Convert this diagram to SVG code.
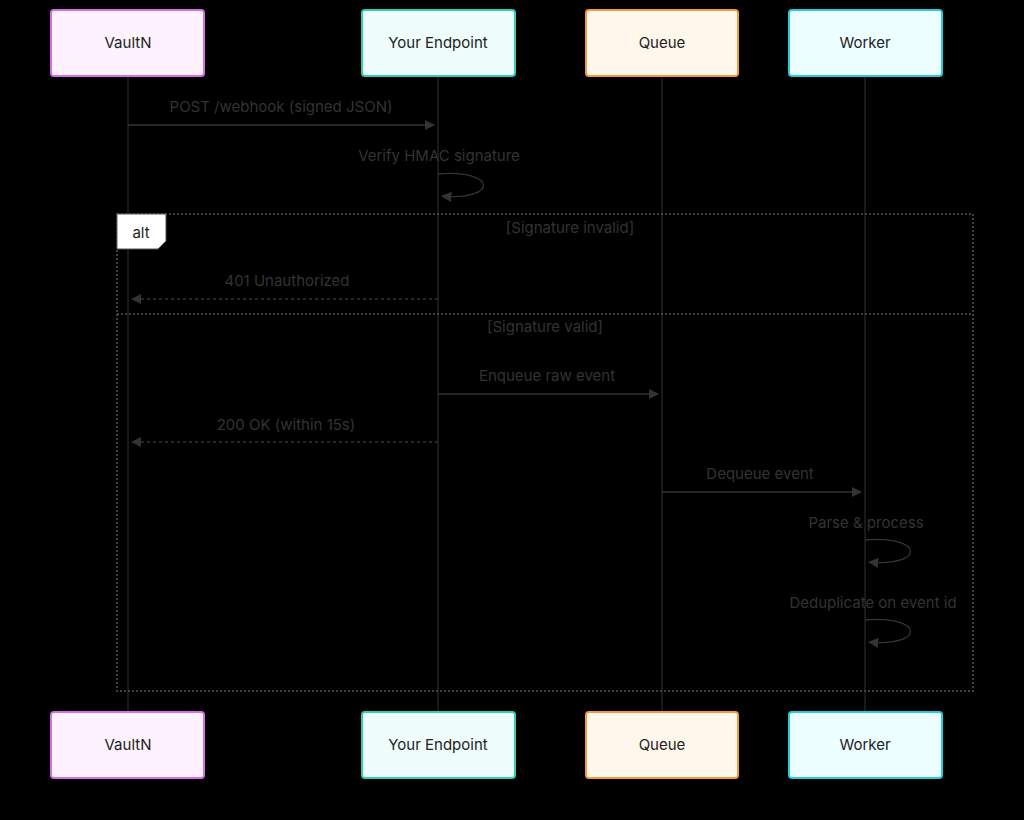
<svg xmlns="http://www.w3.org/2000/svg" width="1024" height="820" viewBox="0 0 1024 820">
<defs>
<style>
text{font-family:Inter,"Liberation Sans",sans-serif;font-size:15px;fill:#333;text-anchor:middle}
.lt{font-size:15px;fill:#222}
.life{stroke:#333;stroke-width:1}
.msg{stroke:#333;stroke-width:1.3;fill:none}
.dash{stroke-dasharray:3,3}
.frame{stroke:#555;stroke-width:1.5;fill:none;stroke-dasharray:2,2}
</style>
<marker id="ah" viewBox="0 0 10 10" refX="9" refY="5" markerWidth="8" markerHeight="8" orient="auto"><path d="M0,0L10,5L0,10z" fill="#333"/></marker>
</defs>
<rect width="1024" height="820" fill="#000"/>
<g id="lifelines">
<line class="life" x1="128" y1="76" x2="128" y2="712"/>
<line class="life" x1="438" y1="76" x2="438" y2="712"/>
<line class="life" x1="662" y1="76" x2="662" y2="712"/>
<line class="life" x1="865" y1="76" x2="865" y2="712"/>
</g>
<g id="frame">
<rect class="frame" x="117" y="214" width="856" height="477"/>
<line class="frame" x1="117" y1="314" x2="973" y2="314"/>
<path d="M117,214H166V241L158,249H117z" fill="#fff" stroke="#555"/>
<text x="141" y="238" class="lt">alt</text>
<text x="570" y="233">[Signature invalid]</text>
<text x="545" y="332">[Signature valid]</text>
</g>
<g id="connectors">
<line class="msg" x1="128" y1="125" x2="434" y2="125" marker-end="url(#ah)"/>
<text x="281" y="112">POST /webhook (signed JSON)</text>
<path class="msg" d="M438,174C498,169 498,201 442,196" marker-end="url(#ah)"/>
<text x="439" y="161">Verify HMAC signature</text>
<line class="msg dash" x1="438" y1="299" x2="132" y2="299" marker-end="url(#ah)"/>
<text x="287" y="286">401 Unauthorized</text>
<line class="msg" x1="438" y1="394" x2="658" y2="394" marker-end="url(#ah)"/>
<text x="547" y="381">Enqueue raw event</text>
<line class="msg dash" x1="438" y1="442" x2="132" y2="442" marker-end="url(#ah)"/>
<text x="286" y="430">200 OK (within 15s)</text>
<line class="msg" x1="662" y1="492" x2="861" y2="492" marker-end="url(#ah)"/>
<text x="760" y="479">Dequeue event</text>
<path class="msg" d="M865,540C925,535 925,567 869,562" marker-end="url(#ah)"/>
<text x="866" y="528">Parse &amp; process</text>
<path class="msg" d="M865,620C925,615 925,647 869,642" marker-end="url(#ah)"/>
<text x="873" y="608">Deduplicate on event id</text>
</g>
<g id="vaultn">
<rect x="51" y="10" width="153" height="66" rx="3" fill="#fdf2fd" stroke="#d56ee6" stroke-width="2"/>
<rect x="51" y="712" width="153" height="66" rx="3" fill="#fdf2fd" stroke="#d56ee6" stroke-width="2"/>
<text x="128" y="48" class="lt">VaultN</text><text x="128" y="750" class="lt">VaultN</text>
</g>
<g id="endpoint">
<rect x="362" y="10" width="153" height="66" rx="3" fill="#effdfa" stroke="#2fcfb5" stroke-width="2"/>
<rect x="362" y="712" width="153" height="66" rx="3" fill="#effdfa" stroke="#2fcfb5" stroke-width="2"/>
<text x="438" y="48" class="lt">Your Endpoint</text><text x="438" y="750" class="lt">Your Endpoint</text>
</g>
<g id="queue">
<rect x="586" y="10" width="152" height="66" rx="3" fill="#fff6ec" stroke="#f39a3c" stroke-width="2"/>
<rect x="586" y="712" width="152" height="66" rx="3" fill="#fff6ec" stroke="#f39a3c" stroke-width="2"/>
<text x="662" y="48" class="lt">Queue</text><text x="662" y="750" class="lt">Queue</text>
</g>
<g id="worker">
<rect x="789" y="10" width="153" height="66" rx="3" fill="#ecfeff" stroke="#25cbd8" stroke-width="2"/>
<rect x="789" y="712" width="153" height="66" rx="3" fill="#ecfeff" stroke="#25cbd8" stroke-width="2"/>
<text x="865" y="48" class="lt">Worker</text><text x="865" y="750" class="lt">Worker</text>
</g>
</svg>
